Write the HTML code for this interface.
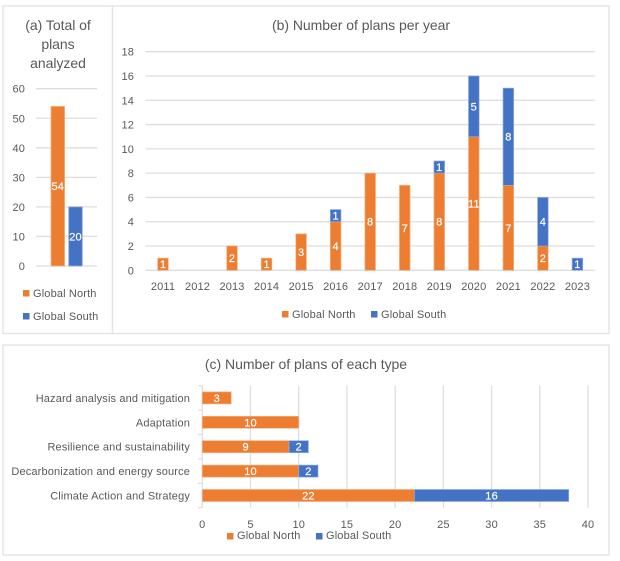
<!DOCTYPE html>
<html lang="en">
<head>
<meta charset="utf-8">
<title>Climate plans charts</title>
<style>
html,body{margin:0;padding:0;background:#fff;}
svg{display:block;font-family:"Liberation Sans",sans-serif;}
text{fill:#595959;font-size:11px;letter-spacing:.15px;}
.title{font-size:14px;letter-spacing:-.03px;text-anchor:middle;}
.lab{fill:#fff;text-anchor:middle;stroke:#fff;stroke-width:.2px;}
.panel{fill:#fff;stroke:#e4e4e4;stroke-width:1.4;}
</style>
</head>
<body>
<svg id="figure" width="620" height="561" viewBox="0 0 620 561" xmlns="http://www.w3.org/2000/svg">
  <rect width="620" height="561" fill="#fff"/>
  <rect class="panel" x="3" y="6" width="109.500" height="327.500"/>
  <rect class="panel" x="112.500" y="6" width="496.500" height="327.500"/>
  <rect class="panel" x="3" y="345" width="606" height="210"/>

  <g id="chart-a">
    <text class="title" x="58" y="30">(a) Total of</text>
    <text class="title" x="58" y="49">plans</text>
    <text class="title" x="58" y="68">analyzed</text>
    <rect x="23" y="290" width="6.500" height="6.500" fill="#ED7D31"/>
    <text x="33" y="297">Global North</text>
    <rect x="23" y="313" width="6.500" height="6.500" fill="#4472C4"/>
    <text x="33" y="320">Global South</text>
  </g>

  <g id="chart-b">
    <text class="title" x="361" y="30">(b) Number of plans per year</text>
    <rect x="282" y="311" width="6.500" height="6.500" fill="#ED7D31"/>
    <text x="292" y="318">Global North</text>
    <rect x="371" y="311" width="6.500" height="6.500" fill="#4472C4"/>
    <text x="381" y="318">Global South</text>
  </g>

  <g id="chart-c">
    <text class="title" x="306" y="369">(c) Number of plans of each type</text>
    <rect x="227" y="533" width="6.500" height="6.500" fill="#ED7D31"/>
    <text x="237" y="539">Global North</text>
    <rect x="316" y="533" width="6.500" height="6.500" fill="#4472C4"/>
    <text x="326" y="539">Global South</text>
  </g>
</svg>
<script>
// Chart (a)
var totalSeries = ["Global North", "Global South"];
var totalValues = [54, 20];
var totalTicks = [0, 10, 20, 30, 40, 50, 60];

// Chart (b)
var years = ["2011","2012","2013","2014","2015","2016","2017","2018","2019","2020","2021","2022","2023"];
var yearNorth = [1, 0, 2, 1, 3, 4, 8, 7, 8, 11, 7, 2, 0];
var yearSouth = [0, 0, 0, 0, 0, 1, 0, 0, 1, 5, 8, 4, 1];
var yearTicks = [0, 2, 4, 6, 8, 10, 12, 14, 16, 18];

// Chart (c)
var planTypes = ["Hazard analysis and mitigation","Adaptation","Resilience and sustainability","Decarbonization and energy source","Climate Action and Strategy"];
var typeNorth = [3, 10, 9, 10, 22];
var typeSouth = [0, 0, 2, 2, 16];
var typeTicks = [0, 5, 10, 15, 20, 25, 30, 35, 40];

var NS = "http://www.w3.org/2000/svg";
var NORTH = "#ED7D31", SOUTH = "#4472C4", NORTH_EDGE = "#F4B183", SOUTH_EDGE = "#8FAADC", GRID = "#DEDEDE";

function make(parent, tag, attrs, txt) {
  var el = document.createElementNS(NS, tag);
  for (var k in attrs) el.setAttribute(k, attrs[k]);
  if (txt !== undefined) el.textContent = txt;
  parent.appendChild(el);
  return el;
}

/* ---------- chart a ---------- */
var ga = document.getElementById("chart-a");
function ya(v) { return 266 - v * (266 - 88.7) / 60; }
totalTicks.forEach(function (t) {
  var line = make(ga, "line", {x1: 36, x2: 97, y1: ya(t), y2: ya(t), stroke: GRID, "stroke-width": 1.3});
  
  
  var lab = make(ga, "text", {x: 25, y: ya(t) + 4, "text-anchor": "end"}, String(t));
  
  
});
totalValues.forEach(function (v, i) {
  var x = 51 + i * 17.7;
  var bar = make(ga, "rect", {x: x, y: ya(v), width: 13.6, height: ya(0) - ya(v),
    fill: i === 0 ? NORTH : SOUTH, stroke: i === 0 ? NORTH_EDGE : SOUTH_EDGE, "stroke-width": 0.8});
  
  
  var lab = make(ga, "text", {"class": "lab", x: x + 6.8, y: ya(v / 2) + 4}, String(v));
  
  
});

/* ---------- chart b ---------- */
var gb = document.getElementById("chart-b");
var bLeft = 145.7, bRight = 594.7;
function yb(v) { return 270.3 - v * (270.3 - 51.7) / 18; }
function xb(i) { return bLeft + (i + 0.5) * (bRight - bLeft) / years.length; }
yearTicks.forEach(function (t) {
  var line = make(gb, "line", {x1: bLeft, x2: bRight, y1: yb(t), y2: yb(t), stroke: GRID, "stroke-width": 1.3});
  
  
  var lab = make(gb, "text", {x: 134, y: yb(t) + 4, "text-anchor": "end"}, String(t));
  
  
});
years.forEach(function (yr, i) {
  var lab = make(gb, "text", {x: xb(i), y: 290, "text-anchor": "middle"}, yr);
  
  
  var n = yearNorth[i], s = yearSouth[i];
  if (n > 0) {
    var nb = make(gb, "rect", {x: xb(i) - 5.3, y: yb(n), width: 10.6, height: yb(0) - yb(n),
      fill: NORTH, stroke: NORTH_EDGE, "stroke-width": 0.7});
    
    
    var nl = make(gb, "text", {"class": "lab", x: xb(i), y: yb(n / 2) + 4}, String(n));
    
    
  }
  if (s > 0) {
    var sb = make(gb, "rect", {x: xb(i) - 5.3, y: yb(n + s), width: 10.6, height: yb(n) - yb(n + s),
      fill: SOUTH, stroke: SOUTH_EDGE, "stroke-width": 0.7});
    
    
    var sl = make(gb, "text", {"class": "lab", x: xb(i), y: yb(n + s / 2) + 4}, String(s));
    
    
  }
});

/* ---------- chart c ---------- */
var gc = document.getElementById("chart-c");
var cTop = 385.7, cBottom = 507.7;
function xc(v) { return 202.3 + v * (588 - 202.3) / 40; }
function yc(i) { return cTop + (i + 0.5) * (cBottom - cTop) / planTypes.length; }
typeTicks.forEach(function (t) {
  var line = make(gc, "line", {x1: xc(t), x2: xc(t), y1: cTop, y2: cBottom, stroke: GRID, "stroke-width": 1.3});
  
  
  var lab = make(gc, "text", {x: xc(t), y: 528, "text-anchor": "middle"}, String(t));
  
  
});
for (var k = 0; k <= planTypes.length; k++) {
  var yy = cTop + k * (cBottom - cTop) / planTypes.length;
  var tick = make(gc, "line", {x1: 198, x2: 202.3, y1: yy, y2: yy, stroke: GRID, "stroke-width": 1.2});
  
  
}
planTypes.forEach(function (name, i) {
  var lab = make(gc, "text", {x: 190, y: yc(i) + 4, "text-anchor": "end"}, name);
  
  
  var n = typeNorth[i], s = typeSouth[i];
  if (n > 0) {
    var nb = make(gc, "rect", {x: xc(0), y: yc(i) - 6, width: xc(n) - xc(0), height: 12,
      fill: NORTH, stroke: NORTH_EDGE, "stroke-width": 0.7});
    
    
    var nl = make(gc, "text", {"class": "lab", x: xc(n / 2), y: yc(i) + 4}, String(n));
    
    
  }
  if (s > 0) {
    var sb = make(gc, "rect", {x: xc(n), y: yc(i) - 6, width: xc(n + s) - xc(n), height: 12,
      fill: SOUTH, stroke: SOUTH_EDGE, "stroke-width": 0.7});
    
    
    var sl = make(gc, "text", {"class": "lab", x: xc(n + s / 2), y: yc(i) + 4}, String(s));
    
    
  }
});
</script>
</body>
</html>
